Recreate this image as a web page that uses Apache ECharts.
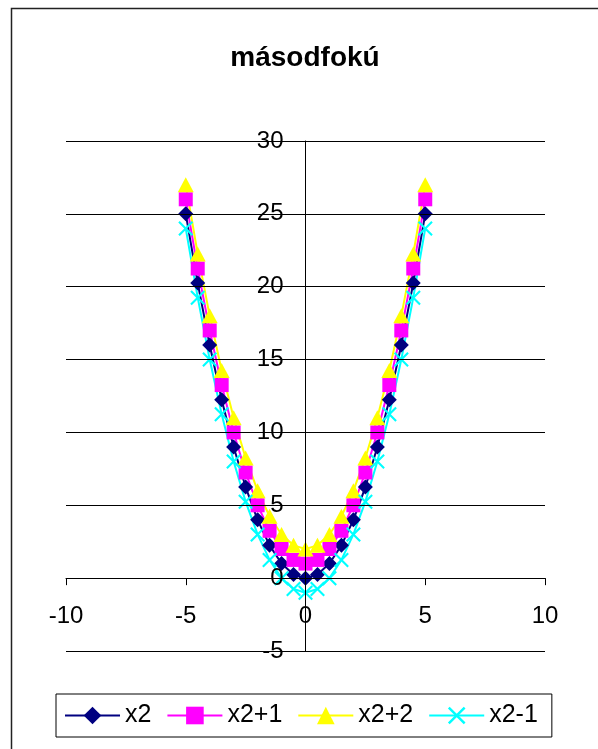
<!DOCTYPE html>
<html>
<head>
<meta charset="utf-8">
<script src="https://cdn.jsdelivr.net/npm/echarts@6/dist/echarts.min.js"></script>
<style>
html,body{margin:0;padding:0;background:#fff;}
#chart{width:598px;height:749px;}
</style>
</head>
<body>
<div id="chart"></div>
<script>
var titleText = 'másodfokú';
var xValues = [-5, -4.5, -4, -3.5, -3, -2.5, -2, -1.5, -1, -0.5, 0, 0.5, 1, 1.5, 2, 2.5, 3, 3.5, 4, 4.5, 5];
var seriesNames = ['x2', 'x2+1', 'x2+2', 'x2-1'];
var ySq   = [25, 20.25, 16, 12.25, 9, 6.25, 4, 2.25, 1, 0.25, 0, 0.25, 1, 2.25, 4, 6.25, 9, 12.25, 16, 20.25, 25];
var ySqP1 = [26, 21.25, 17, 13.25, 10, 7.25, 5, 3.25, 2, 1.25, 1, 1.25, 2, 3.25, 5, 7.25, 10, 13.25, 17, 21.25, 26];
var ySqP2 = [27, 22.25, 18, 14.25, 11, 8.25, 6, 4.25, 3, 2.25, 2, 2.25, 3, 4.25, 6, 8.25, 11, 14.25, 18, 22.25, 27];
var ySqM1 = [24, 19.25, 15, 11.25, 8, 5.25, 3, 1.25, 0, -0.75, -1, -0.75, 0, 1.25, 3, 5.25, 8, 11.25, 15, 19.25, 24];
var xAxisRange = {min: -10, max: 10, interval: 5};
var yAxisRange = {min: -5, max: 30, interval: 5};

var FONT = '"Liberation Sans", Arial, sans-serif';
var colors = ['#000080', '#FF00FF', '#FFFF00', '#00FFFF'];
var crossPath = 'path://M0,2L2,0L10,8L18,0L20,2L12,10L20,18L18,20L10,12L2,20L0,18L8,10Z';
var symbols = ['diamond', 'rect', 'triangle', crossPath];
var symbolSizes = [[15, 15], [14, 14], [16, 15], [15, 15]];
var yData = [ySq, ySqP1, ySqP2, ySqM1];

function pairs(xs, ys) {
  var out = [];
  for (var i = 0; i < xs.length; i++) out.push([xs[i], ys[i]]);
  return out;
}

var series = seriesNames.map(function (name, i) {
  return {
    name: name,
    type: 'line',
    data: pairs(xValues, yData[i]),
    symbol: symbols[i],
    symbolSize: symbolSizes[i],
    showAllSymbol: true,
    lineStyle: {color: colors[i], width: 2},
    itemStyle: {color: colors[i], borderWidth: 0},
    emphasis: {disabled: true},
    animation: false,
    z: 2
  };
});

var GRID = {left: 66, right: 53, top: 141, bottom: 98};

var chart = echarts.init(document.getElementById('chart'), null, {renderer: 'canvas'});
chart.setOption({
  animation: false,
  backgroundColor: '#ffffff',
  graphic: [
    {type: 'rect', shape: {x: 11.5, y: 8.5, width: 700, height: 800}, style: {fill: 'none', stroke: '#222', lineWidth: 1.5}, z: 0},
    {type: 'text', x: 305, y: 58, style: {text: titleText, fill: '#000', font: 'bold 28px ' + FONT, textAlign: 'center', textVerticalAlign: 'middle'}, z: 10}
  ],
  grid: {left: GRID.left, right: GRID.right, top: GRID.top, bottom: GRID.bottom, containLabel: false},
  xAxis: {
    type: 'value', position: 'bottom', min: xAxisRange.min, max: xAxisRange.max, interval: xAxisRange.interval,
    axisLine: {show: true, onZero: false, lineStyle: {color: '#000', width: 1}},
    axisTick: {show: true, length: 7, inside: false, lineStyle: {color: '#000', width: 1}},
    axisLabel: {margin: 26, color: '#000', fontSize: 24, fontFamily: FONT},
    splitLine: {show: false},
    z: 5
  },
  yAxis: {
    type: 'value', position: 'left', min: yAxisRange.min, max: yAxisRange.max, interval: yAxisRange.interval,
    axisLine: {show: true, onZero: false, lineStyle: {color: '#000', width: 1}},
    axisTick: {show: true, length: 7, inside: false, lineStyle: {color: '#000', width: 1}},
    axisLabel: {margin: 22, color: '#000', fontSize: 24, fontFamily: FONT},
    splitLine: {show: true, lineStyle: {color: '#000', width: 1}},
    z: 5
  },
  legend: {
    data: seriesNames,
    left: 56, top: 694,
    orient: 'horizontal',
    itemWidth: 55, itemHeight: 22, itemGap: 15,
    padding: [9, 14, 9, 8],
    borderColor: '#000', borderWidth: 1,
    textStyle: {color: '#000', fontSize: 25, fontFamily: FONT},
    selectedMode: false
  },
  series: series
});

// Move each axis (line, ticks and labels) to cross the other axis at zero, as in the reference.
var origin = chart.convertToPixel({gridIndex: 0}, [0, 0]);
var bottomEdge = 749 - GRID.bottom;
var leftEdge = GRID.left;
chart.setOption({
  xAxis: {offset: -(bottomEdge - origin[1])},
  yAxis: {offset: -(origin[0] - leftEdge)}
});
</script>
</body>
</html>
